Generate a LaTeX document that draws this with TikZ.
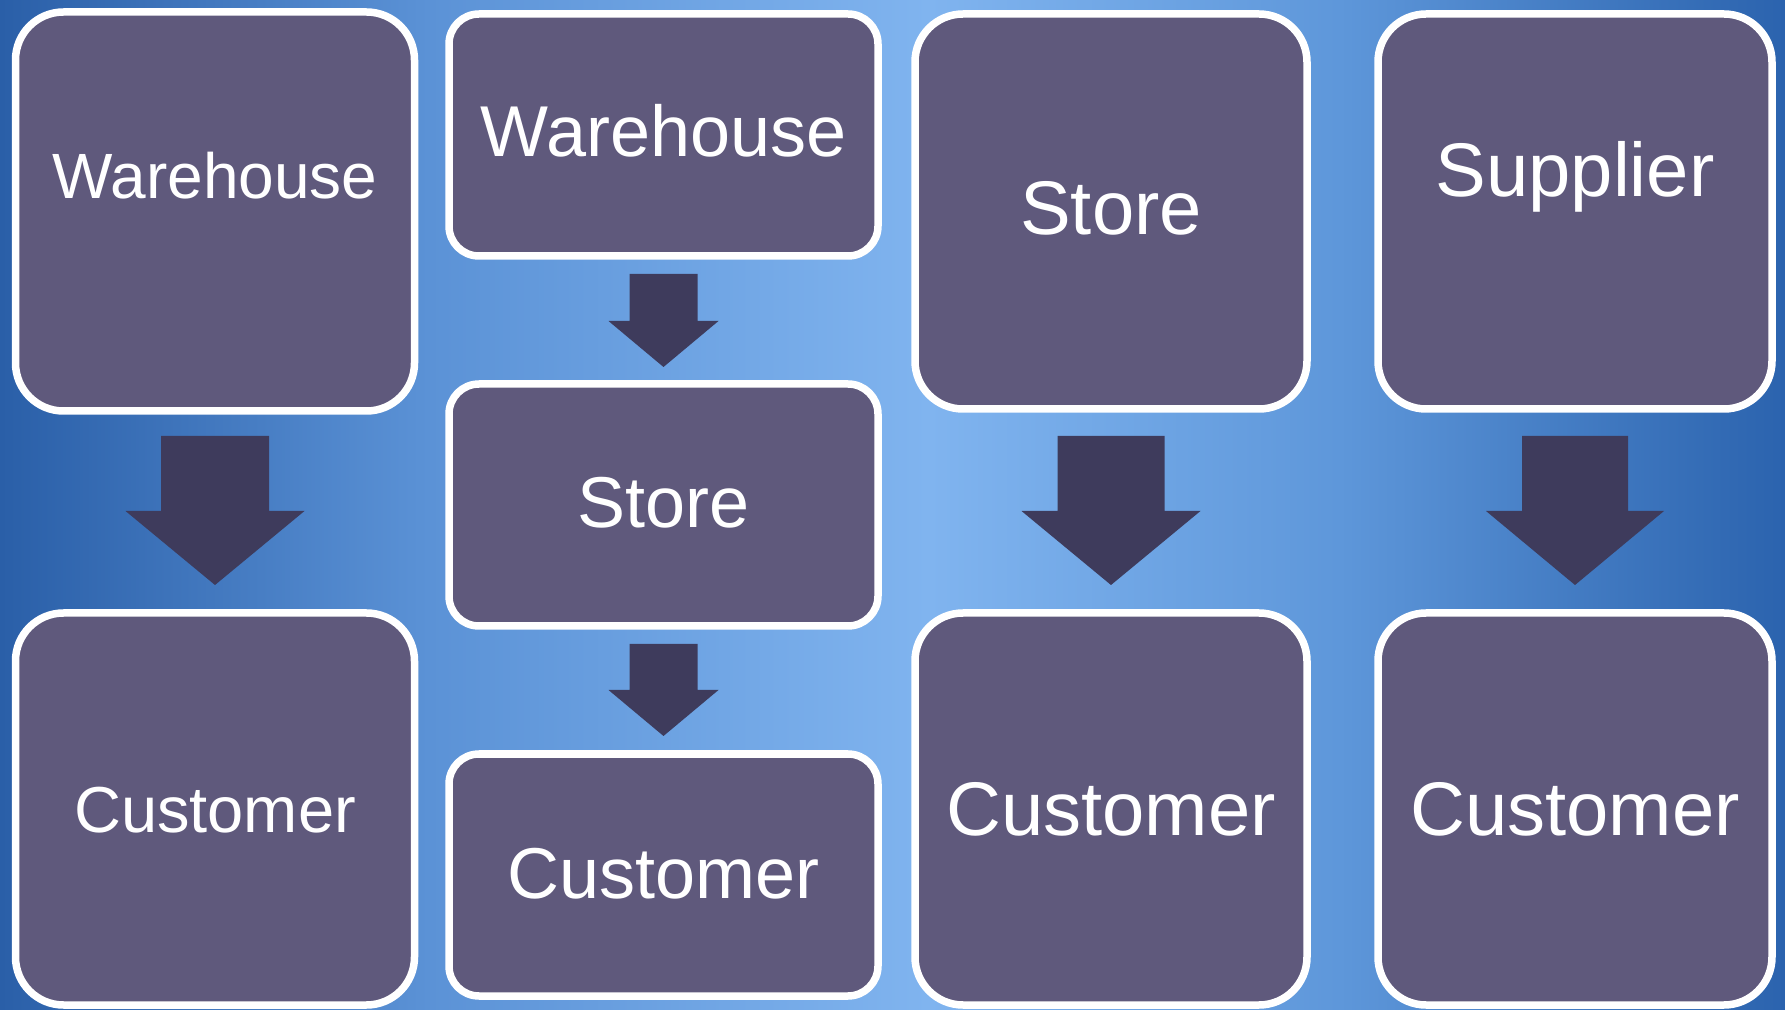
\documentclass[tikz,border=0pt]{standalone}
\usepackage{fontspec}
\setmainfont{Liberation Sans}
\usetikzlibrary{calc}

\definecolor{bgedge}{HTML}{2A5FA8}
\definecolor{bgmidL}{HTML}{5B92D6}
\definecolor{bgcentre}{HTML}{80B4EF}
\definecolor{bgmidR}{HTML}{5E97DA}
\definecolor{bgedgeR}{HTML}{2B63AE}
\definecolor{boxfill}{HTML}{5F597C}
\definecolor{arrowfill}{HTML}{3E3B5C}

% the filled rectangle spans 25bp..75bp of the shading
\pgfdeclarehorizontalshading{backdrop}{100bp}{%
  color(0bp)=(bgedge); color(25bp)=(bgedge); color(37bp)=(bgmidL);
  color(51bp)=(bgcentre); color(62.5bp)=(bgmidR); color(75bp)=(bgedgeR);
  color(100bp)=(bgedgeR)}

\tikzset{
  stagebox/.style={draw=white, fill=boxfill, line width=3.75pt,
    inner sep=0pt, outer sep=0pt, shape=rectangle},
  lbl/.style={text=white, inner sep=0pt, anchor=base},
  blockarrow/.style={fill=arrowfill},
}

% #1 name, #2 left, #3 top, #4 right, #5 bottom, #6 corner radius
\newcommand\stagenode[6]{%
  \node[stagebox, rounded corners=#6,
        minimum width={(#4-#2)*0.5pt}, minimum height={(#5-#3)*0.5pt}]
        (#1) at ({(#2+#4)/2},{(#3+#5)/2}) {};}

% #1 from node, #2 to node, #3 top gap, #4 bottom gap, #5 head length,
% #6 shaft half-width, #7 head half-width
\newcommand\flowarrow[7]{%
  \fill[blockarrow]
    ($(#1.south)+(-#6,#3)$) -- ($(#1.south)+(#6,#3)$)
    -- ($(#2.north)+(#6,-#4-#5)$) -- ($(#2.north)+(#7,-#4-#5)$)
    -- ($(#2.north)+(0,-#4)$)
    -- ($(#2.north)+(-#7,-#4-#5)$) -- ($(#2.north)+(-#6,-#4-#5)$) -- cycle;}

\begin{document}
\begin{tikzpicture}[x=0.5pt, y=-0.5pt]
  \useasboundingbox (0,0) rectangle (1785,1010);
  \shade[shading=backdrop] (0,0) rectangle (1785,1010);

  % column 1: warehouse -> customer
  \stagenode{wa}{15.5}{12}{414.5}{411}{24pt}
  \stagenode{ca}{15.5}{613}{414.5}{1005}{24pt}
  \node[lbl, font=\fontsize{32}{38}\selectfont] (twa) at (215,199) {Warehouse};
  \node[lbl, font=\fontsize{32.5}{38}\selectfont] (tca) at (215,832) {Customer};
  \flowarrow{wa}{ca}{25}{28}{74}{54}{89.5}

  % column 2: warehouse -> store -> customer
  \stagenode{wb}{449}{14}{878}{256}{15pt}
  \stagenode{sb}{449}{384}{878}{626}{15pt}
  \stagenode{cb}{449}{754}{878}{996}{15pt}
  \node[lbl, font=\fontsize{36}{42}\selectfont] (twb) at (663.5,157) {Warehouse};
  \node[lbl, font=\fontsize{36}{42}\selectfont] (tsb) at (663.5,528) {Store};
  \node[lbl, font=\fontsize{36}{42}\selectfont] (tcb) at (663.5,898) {Customer};
  \flowarrow{wb}{sb}{18}{17}{46}{34}{55}
  \flowarrow{sb}{cb}{18}{18}{46}{34}{55}

  % column 3: store -> customer
  \stagenode{sc}{915}{14}{1307}{409}{24pt}
  \stagenode{cc}{915}{613}{1307}{1005}{24pt}
  \node[lbl, font=\fontsize{38}{44}\selectfont] (tsc) at (1111,235) {Store};
  \node[lbl, font=\fontsize{38}{44}\selectfont] (tcc) at (1111,835) {Customer};
  \flowarrow{sc}{cc}{27}{28}{74}{53.5}{89.5}

  % column 4: supplier -> customer
  \stagenode{pd}{1378}{14}{1772}{409}{24pt}
  \stagenode{cd}{1378}{613}{1772}{1005}{24pt}
  \node[lbl, font=\fontsize{38}{44}\selectfont] (tpd) at (1575,197) {Supplier};
  \node[lbl, font=\fontsize{38}{44}\selectfont] (tcd) at (1575,835) {Customer};
  \flowarrow{pd}{cd}{27}{28}{74}{53}{89}
\end{tikzpicture}
\end{document}
